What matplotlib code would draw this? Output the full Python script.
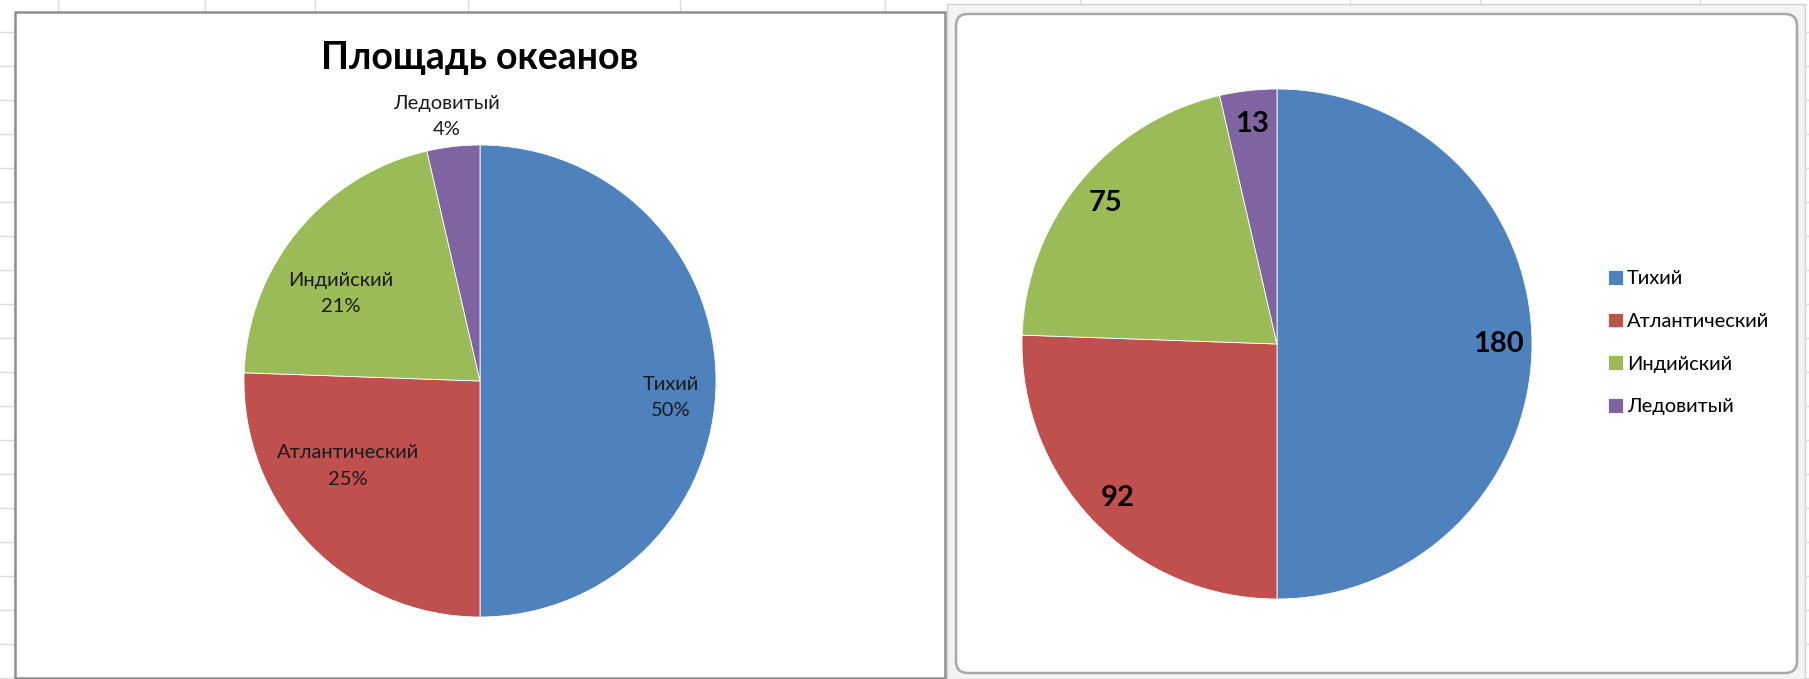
import matplotlib.pyplot as plt
from matplotlib.patches import Rectangle, FancyBboxPatch

W, H = 1809, 679

oceans = ['Тихий', 'Атлантический', 'Индийский', 'Ледовитый']
area = [180, 92, 75, 13]
pct_labels = ['50%', '25%', '21%', '4%']
colors = ['#4F81BD', '#C0504D', '#9BBB59', '#8064A2']

plt.rcParams['font.family'] = ['Lato', 'DejaVu Sans']
fig = plt.figure(figsize=(W / 100, H / 100), dpi=100)


def px_axes(x0, y0, w, h):
    # axes placed with top-left pixel coords
    return fig.add_axes([x0 / W, 1 - (y0 + h) / H, w / W, h / H])


# excel sheet behind the charts
bg = px_axes(0, 0, W, H)
bg.set_xlim(0, W)
bg.set_ylim(H, 0)
bg.axis('off')
for y in range(32, H, 34):
    bg.plot([0, W], [y, y], color='#DCDCDC', lw=1, zorder=1)
for x in [58, 205, 315, 468, 680, 885, 1080, 1350, 1480, 1700]:
    bg.plot([x, x], [0, H], color='#DCDCDC', lw=1, zorder=1)

bg.add_patch(Rectangle((15, 12), 930, 666, fc='white', ec='#8E8E8E',
                       lw=1.8, zorder=3))
bg.add_patch(Rectangle((947, 4), 858, 675, fc='#F3F3F3', ec='#D2D2D2',
                       lw=1, zorder=3))
bg.add_patch(FancyBboxPatch((956, 14), 841, 659,
                            boxstyle='round,pad=0,rounding_size=12',
                            fc='white', ec='#A8A8A8', lw=1.8, zorder=4))

# left chart: percentages
fig.text(480 / W, 1 - 58 / H, 'Площадь океанов', ha='center', va='center',
         fontsize=27, fontweight='bold')

ax1 = px_axes(244, 145, 472, 472)
wedges, _ = ax1.pie(area, colors=colors, startangle=90, counterclock=False,
                    wedgeprops=dict(edgecolor='white', linewidth=0.6))
ax1.set_xlim(-1, 1)
ax1.set_ylim(-1, 1)
ax1.axis('off')

# label centres in units of pie radius (Excel "best fit")
left_pos = [(0.81, -0.07), (-0.56, -0.36), (-0.59, 0.37), (-0.14, 1.12)]
for (lx, ly), name, pct in zip(left_pos, oceans, pct_labels):
    ax1.text(lx, ly, name + '\n' + pct, ha='center', va='center',
             fontsize=14.5, linespacing=1.65, color='#1A1A1A')

# right chart: values
ax2 = px_axes(1022, 89, 510, 510)
ax2.pie(area, colors=colors, startangle=90, counterclock=False,
        labels=[str(v) for v in area], labeldistance=0.87,
        textprops=dict(fontsize=21, fontweight='bold'),
        wedgeprops=dict(edgecolor='white', linewidth=0.6))
ax2.set_xlim(-1, 1)
ax2.set_ylim(-1, 1)
ax2.axis('off')
for t in ax2.texts:
    t.set_horizontalalignment('center')
    t.set_verticalalignment('center')

fig.legend(wedges, oceans, loc='upper left',
           bbox_to_anchor=(1600 / W, 1 - 262 / H), frameon=False,
           fontsize=14.5, handlelength=0.75, handleheight=0.75,
           handletextpad=0.2, labelspacing=1.25, borderaxespad=0)

fig.savefig('out.png', dpi=100)
